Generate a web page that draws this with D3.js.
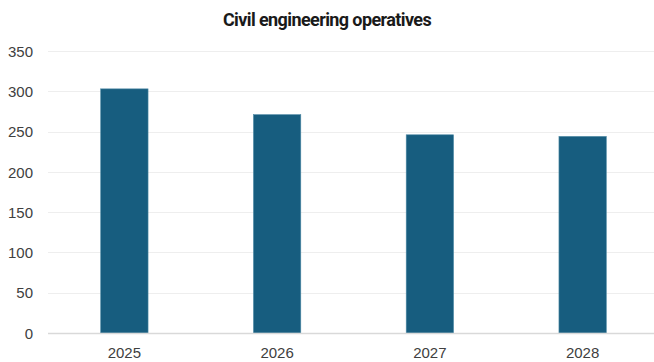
<!DOCTYPE html>
<html>
<head>
<meta charset="utf-8">
<script src="https://cdn.jsdelivr.net/npm/d3@7/dist/d3.min.js"></script>
<style>
  html, body { margin: 0; padding: 0; background: #ffffff; }
  svg { display: block; }
</style>
</head>
<body>
<svg id="chart" width="654" height="362"></svg>
<script>
// Civil engineering operatives, by year
const years = ["2025", "2026", "2027", "2028"];
const operatives = [303, 271, 246, 244];
const yTicks = [0, 50, 100, 150, 200, 250, 300, 350];
const chartTitle = "Civil engineering operatives";

const width = 654, height = 362;
const margin = { top: 51, right: -5, bottom: 29, left: 48 };

const svg = d3.select("#chart");

const x = d3.scaleBand()
  .domain(years)
  .range([margin.left, width - margin.right])
  .paddingInner(0.69)
  .paddingOuter(0.345);

const y = d3.scaleLinear()
  .domain([0, 350])
  .range([height - margin.bottom, margin.top]);

// horizontal gridlines
svg.append("g")
  .selectAll("line")
  .data(yTicks.filter(d => d > 0))
  .join("line")
  .attr("x1", margin.left)
  .attr("x2", width)
  .attr("y1", d => Math.round(y(d)) + 0.5)
  .attr("y2", d => Math.round(y(d)) + 0.5)
  .attr("stroke", "#eeeeee")
  .attr("stroke-width", 1);

// y axis labels
const yAxis = d3.axisLeft(y).tickValues(yTicks).tickSize(0).tickPadding(0);
svg.append("g")
  .attr("transform", `translate(33,0)`)
  .call(yAxis)
  .call(g => g.select(".domain").remove())
  .call(g => g.selectAll("text")
    .attr("fill", "#404040")
    .attr("font-family", "'Liberation Sans Narrow', 'Liberation Sans', Arial, sans-serif")
    .attr("font-size", 15)
    .attr("dy", "0.35em"));

// bars
svg.append("g")
  .selectAll("rect")
  .data(years.map((yr, i) => ({ yr, v: operatives[i] })))
  .join("rect")
  .attr("x", d => x(d.yr))
  .attr("width", x.bandwidth())
  .attr("y", d => y(d.v))
  .attr("height", d => y(0) - y(d.v))
  .attr("fill", "#175d7f")
  .attr("stroke", "#4f8aa6")
  .attr("stroke-width", 0.6);

// baseline
svg.append("line")
  .attr("x1", margin.left)
  .attr("x2", width)
  .attr("y1", y(0) + 0.5)
  .attr("y2", y(0) + 0.5)
  .attr("stroke", "#d9d9d9")
  .attr("stroke-width", 1.5);

// x axis labels
const xAxis = d3.axisBottom(x).tickSize(0).tickPadding(0);
svg.append("g")
  .attr("transform", `translate(0,${y(0)})`)
  .call(xAxis)
  .call(g => g.select(".domain").remove())
  .call(g => g.selectAll("text")
    .attr("fill", "#404040")
    .attr("font-family", "'Liberation Sans Narrow', 'Liberation Sans', Arial, sans-serif")
    .attr("font-size", 15)
    .attr("dy", "0")
    .attr("y", 25));

// title
svg.append("text")
  .attr("x", width / 2)
  .attr("y", 26)
  .attr("text-anchor", "middle")
  .attr("font-family", "Roboto, 'Liberation Sans', Arial, sans-serif")
  .attr("font-weight", "bold")
  .attr("font-size", 18)
  .attr("fill", "#1a1a1a")
  .attr("letter-spacing", -0.6)
  .text(chartTitle);
</script>
</body>
</html>
